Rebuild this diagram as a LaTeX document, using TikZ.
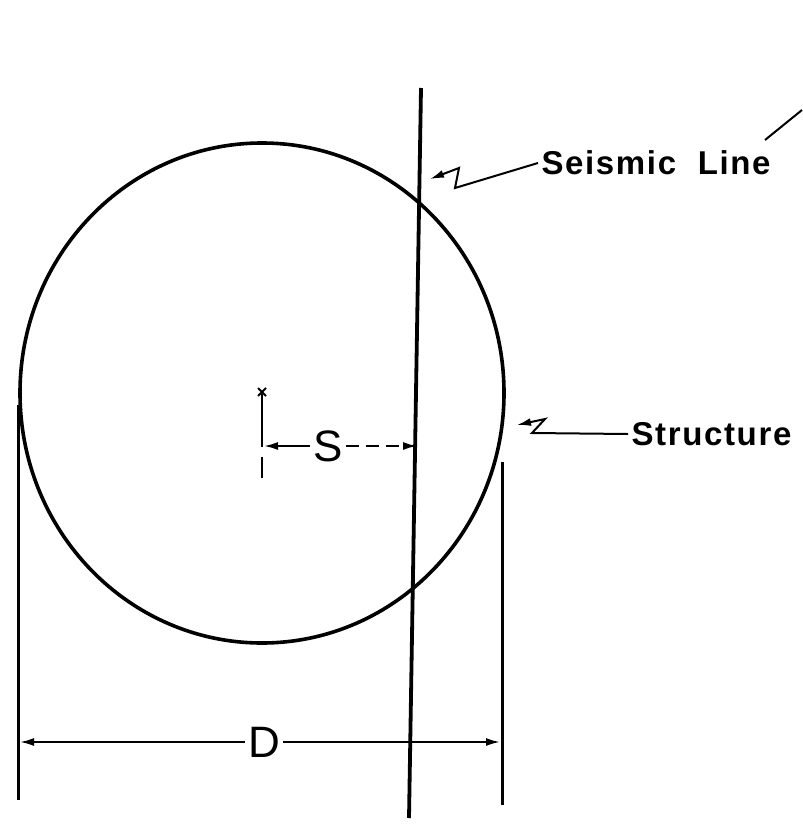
\documentclass[tikz,border=0pt]{standalone}
\usepackage{fontspec}
\setmainfont{Liberation Sans}
\usetikzlibrary{arrows.meta,positioning,shapes.geometric,calc}

\begin{document}
\begin{tikzpicture}[x=1pt,y=-1pt,>={Latex[length=14pt,width=8pt]},every node/.style={align=center}]
  \useasboundingbox (0,0) rectangle (802,826);
  \node[draw,ellipse,line width=3.6pt,minimum width=484pt,minimum height=500pt,inner sep=0pt] (structure) at (262,393) {};
  \coordinate (seistop) at (421,88);
  \coordinate (seisbot) at (409,818);
  \draw[line width=3.8pt] (seistop) -- (seisbot);
  % centre mark
  \coordinate (centre) at (262,392);
  \draw[line width=1.8pt] ($(centre)+(-4,-4)$) -- ($(centre)+(4,4)$) ($(centre)+(4,-4)$) -- ($(centre)+(-4,4)$);
  \draw[line width=2.4pt] (262,394) -- (262,447) (262,457) -- (262,478);
  % offset S
  \node[font=\fontsize{44}{44}\selectfont] (soff) at (328,446) {S};
  \coordinate (sleft) at (264,446);
  \coordinate (sright) at (417,446);
  \draw[->,line width=2pt] (soff.west) -- (sleft);
  \draw[->,line width=2pt,dash pattern=on 13pt off 7pt] (soff.east) -- (sright);
  % diameter D
  \draw[line width=3pt] (18,405) -- (18,800);
  \draw[line width=3pt] (502,462) -- (502,805);
  \node[font=\fontsize{44}{44}\selectfont] (diam) at (264,742) {D};
  \coordinate (dleft) at (20,742);
  \coordinate (dright) at (500,742);
  \draw[->,line width=2pt] (diam.west) -- (dleft);
  \draw[->,line width=2pt] (diam.east) -- (dright);
  % labels
  \node[font=\bfseries\fontsize{33}{33}\selectfont\addfontfeature{LetterSpace=5},anchor=west] (seislabel) at (538,163) {Seismic\ \ Line};
  \node[font=\bfseries\fontsize{33}{33}\selectfont\addfontfeature{LetterSpace=5},anchor=west] (structlabel) at (628,434) {Structure};
  \coordinate (seistip) at (430,179);
  \coordinate (structtip) at (517,425);
  \draw[<-,line width=2pt] (seistip) -- (459,168) -- (455,188) -- (seislabel.west);
  \draw[<-,line width=2pt] (structtip) -- (545,419) -- (532,433) -- (structlabel.west);
  \draw[line width=2pt] (765,140) -- (802,110);
\end{tikzpicture}
\end{document}
